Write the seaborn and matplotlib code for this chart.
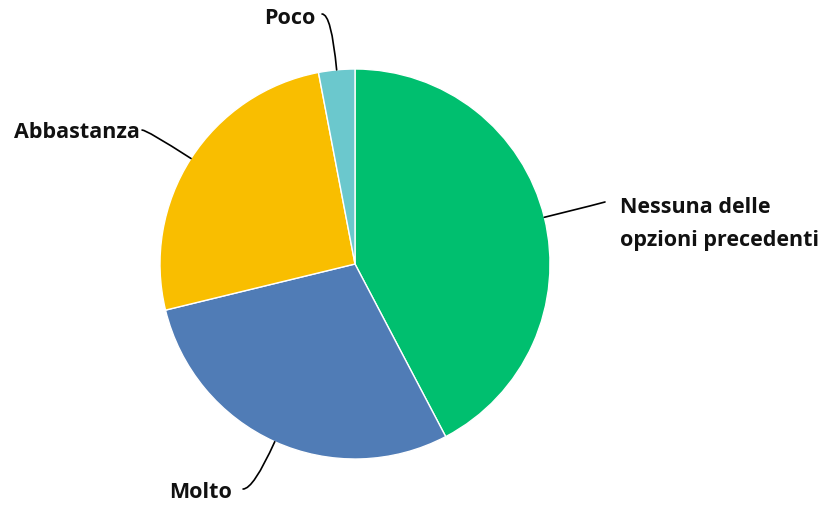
import numpy as np
import seaborn as sns
from matplotlib import pyplot as plt

# Data
labels = ['Nessuna delle\nopzioni precedenti', 'Molto', 'Abbastanza', 'Poco']
shares = [42.3, 28.9, 25.8, 3.0]
colors = ['#00BF6F', '#507CB6', '#F9BE00', '#6BC8CD']

sns.set_theme(style='white')
plt.rcParams['font.family'] = ['Open Sans', 'DejaVu Sans']

fig = plt.figure(figsize=(8.27, 5.10), dpi=100)
ax = fig.add_axes([0, 0, 1, 1])
wedges, _ = ax.pie(shares, colors=sns.color_palette(colors), startangle=90, counterclock=False,
                   wedgeprops=dict(edgecolor='white', linewidth=1))
ax.set_aspect('auto')
ax.set_xlim(-1.8205, 2.4205)
ax.set_ylim(-1.2564, 1.359)
ax.axis('off')

# Label placement: (line end, text position, alignment)
spots = [
    ((1.282, 0.318), (1.359, 0.212), 'left'),
    ((-0.574, -1.154), (-0.631, -1.168), 'right'),
    ((-1.092, 0.687), (-1.103, 0.677), 'right'),
    ((-0.169, 1.282), (-0.205, 1.262), 'right'),
]

for w, lab, (end, tpos, ha) in zip(wedges, labels, spots):
    mid = np.deg2rad((w.theta1 + w.theta2) / 2)
    anchor = (np.cos(mid), np.sin(mid))
    ang = np.rad2deg(mid)
    ax.annotate('', xy=anchor, xytext=end,
                arrowprops=dict(arrowstyle='-', color='black', lw=1.2, shrinkA=0, shrinkB=0,
                                connectionstyle=f'angle3,angleA=0,angleB={ang:.1f}'))
    ax.text(tpos[0], tpos[1], lab, ha=ha, va='center', fontsize=15.5, fontweight='bold',
            color='#111111', linespacing=1.75)

plt.savefig('out.png', dpi=100)
plt.close()
